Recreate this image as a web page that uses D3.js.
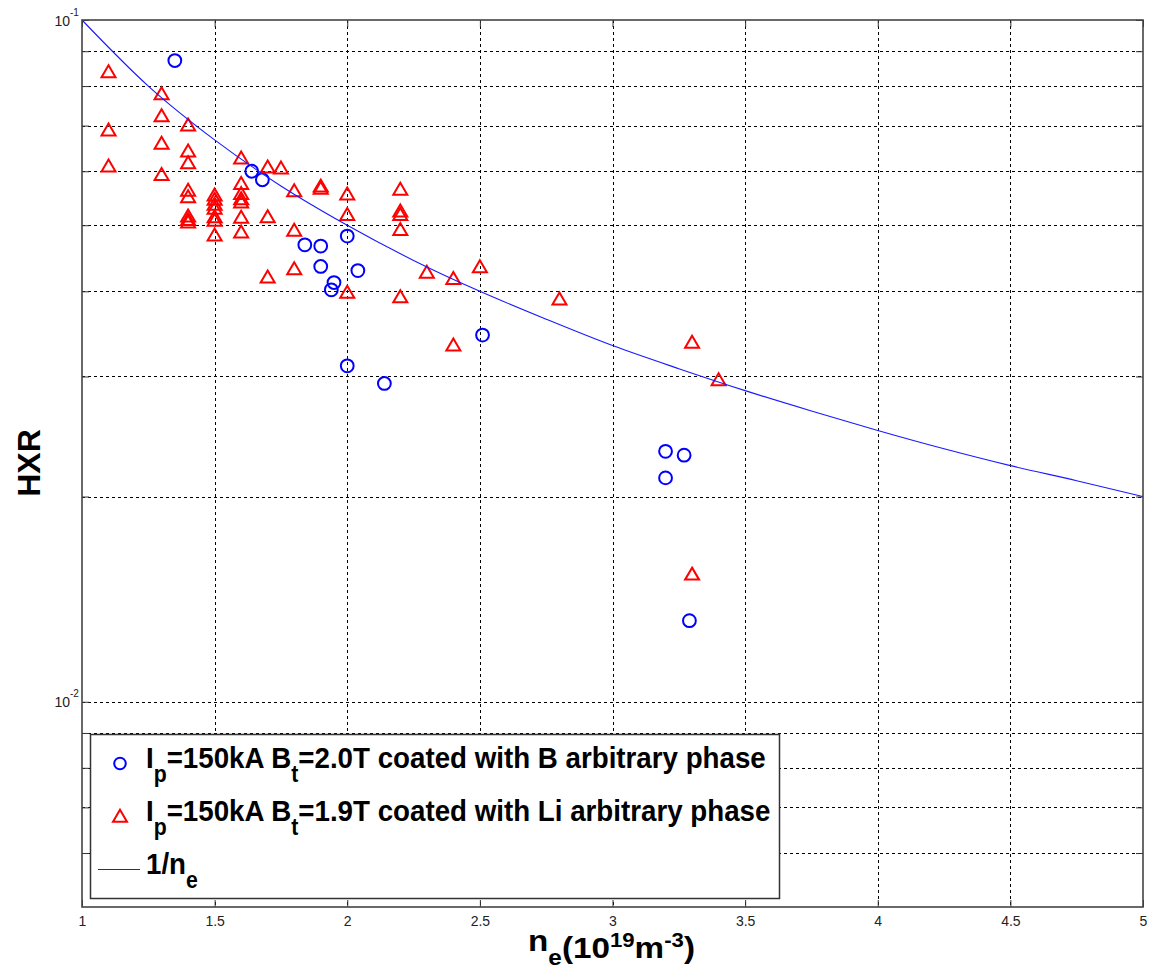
<!DOCTYPE html>
<html>
<head>
<meta charset="utf-8">
<script src="https://cdn.jsdelivr.net/npm/d3@7/dist/d3.min.js"></script>
<style>
  body { margin: 0; background: #fff; }
  text { font-family: "Liberation Sans", Arial, sans-serif; }
</style>
</head>
<body>
<div id="chart"></div>
<script>
// ▶ values
const boronNe  = [1.35, 1.64, 1.68, 1.84, 1.90, 1.90, 1.95, 1.94, 2.00, 2.04, 2.00, 2.14, 2.51, 3.20, 3.27, 3.20, 3.29];
const boronHxr = [0.0872, 0.0600, 0.0583, 0.0468, 0.0466, 0.0435, 0.0412, 0.0402, 0.0482, 0.0429, 0.0311, 0.0293, 0.0345, 0.0233, 0.0230, 0.0213, 0.01315];

const lithiumNe = [
  1.1, 1.1, 1.1,
  1.3, 1.3, 1.3, 1.3,
  1.4, 1.4, 1.4, 1.4, 1.4, 1.4, 1.4, 1.4,
  1.5, 1.5, 1.5, 1.5, 1.5, 1.5, 1.5,
  1.6, 1.6, 1.6, 1.6, 1.6, 1.6, 1.6,
  1.7, 1.7, 1.7, 1.75,
  1.8, 1.8, 1.8, 1.9, 1.9,
  2.0, 2.0, 2.0,
  2.2, 2.2, 2.2, 2.2, 2.2,
  2.3, 2.4, 2.4, 2.5, 2.8, 3.3, 3.3, 3.4
];
const lithiumHxr = [
  0.0840, 0.0690, 0.0611,
  0.0780, 0.0724, 0.0660, 0.0594,
  0.0702, 0.0643, 0.0618, 0.0563, 0.0551, 0.0516, 0.0510, 0.0506,
  0.0554, 0.0546, 0.0537, 0.0530, 0.0515, 0.0509, 0.0484,
  0.0628, 0.0576, 0.0557, 0.0547, 0.0541, 0.0514, 0.0489,
  0.0609, 0.0515, 0.0420, 0.0607,
  0.0562, 0.0492, 0.0432, 0.0567, 0.0571,
  0.0556, 0.0519, 0.0399,
  0.0565, 0.0525, 0.0519, 0.0493, 0.0393,
  0.0427, 0.0418, 0.0334, 0.0435, 0.0390, 0.0337, 0.0154, 0.0297
];

// 1/ne reference curve, read at every 0.25
const curveNe  = [1, 1.25, 1.5, 1.75, 2, 2.25, 2.5, 2.75, 3, 3.25, 3.5, 3.75, 4, 4.25, 4.5, 4.75, 5];
const curveHxr = [0.1, 0.08, 0.0667, 0.0571, 0.05, 0.0444, 0.04, 0.0364, 0.0333, 0.0308, 0.0286, 0.0267, 0.025, 0.0235, 0.0222, 0.0211, 0.02];

const xTickValues = [1, 1.5, 2, 2.5, 3, 3.5, 4, 4.5, 5];
const xTickLabels = ["1", "1.5", "2", "2.5", "3", "3.5", "4", "4.5", "5"];
const yMinorValues = [0.006, 0.007, 0.008, 0.009, 0.02, 0.03, 0.04, 0.05, 0.06, 0.07, 0.08, 0.09];
const yMajorValues = [0.01, 0.1];
const yMajorExps   = ["-2", "-1"];

// legend rows: [text, isSubscript]
const legendRows = [
  [["I", 0], ["p", 1], ["=150kA B", 0], ["t", 1], ["=2.0T coated with B arbitrary phase", 0]],
  [["I", 0], ["p", 1], ["=150kA B", 0], ["t", 1], ["=1.9T coated with Li arbitrary phase", 0]],
  [["1/n", 0], ["e", 1]]
];

const W = 1149, H = 971;
const pLeft = 82, pRight = 1143, pTop = 20, pBottom = 907;

const svg = d3.select("#chart").append("svg")
  .attr("width", W)
  .attr("height", H);

const x = d3.scaleLinear().domain([1, 5]).range([pLeft, pRight]);
const y = d3.scaleLog().domain([0.005, 0.1]).range([pBottom, pTop]);

// 网格
const grid = svg.append("g").attr("class", "grid")
  .attr("stroke", "#000")
  .attr("stroke-width", 1)
  .attr("stroke-dasharray", "3,3")
  .attr("shape-rendering", "crispEdges");

grid.selectAll(".vgrid")
  .data(xTickValues.slice(1, -1))
  .enter().append("line")
  .attr("x1", d => Math.round(x(d)) + 0.5)
  .attr("x2", d => Math.round(x(d)) + 0.5)
  .attr("y1", pTop)
  .attr("y2", pBottom);

grid.selectAll(".hgrid")
  .data(yMinorValues.concat([0.01]))
  .enter().append("line")
  .attr("x1", pLeft)
  .attr("x2", pRight)
  .attr("y1", d => Math.round(y(d)) + 0.5)
  .attr("y2", d => Math.round(y(d)) + 0.5);

// 坐标轴 (ticks point inward like MATLAB)
const axisStyle = g => {
  g.select(".domain").remove();
  g.selectAll(".tick line").attr("stroke", "#333");
};

svg.append("g")
  .attr("transform", `translate(0,${pBottom})`)
  .call(d3.axisBottom(x).tickValues(xTickValues)
    .tickFormat((d, i) => xTickLabels[i]).tickSize(-7).tickPadding(9))
  .call(axisStyle)
  .call(g => g.selectAll("text")
    .attr("font-size", 14)
    .attr("fill", "#222")
    .attr("font-family", "'Liberation Sans', Arial, sans-serif"));

svg.append("g")
  .attr("transform", `translate(0,${pTop})`)
  .call(d3.axisTop(x).tickValues(xTickValues).tickFormat("").tickSize(-7))
  .call(axisStyle);

svg.append("g")
  .attr("transform", `translate(${pLeft},0)`)
  .call(d3.axisLeft(y).tickValues(yMinorValues.concat(yMajorValues)).tickFormat("").tickSize(-7))
  .call(axisStyle);

svg.append("g")
  .attr("transform", `translate(${pRight},0)`)
  .call(d3.axisRight(y).tickValues(yMinorValues.concat(yMajorValues)).tickFormat("").tickSize(-7))
  .call(axisStyle);

// y major labels 10^-1, 10^-2
const yLab = svg.append("g").attr("fill", "#222");
yMajorValues.forEach((v, i) => {
  yLab.append("text")
    .attr("x", 70)
    .attr("y", y(v) + 5.5)
    .attr("text-anchor", "end")
    .attr("font-size", 14)
    .text("10");
  yLab.append("text")
    .attr("x", 70)
    .attr("y", y(v) - 4.5)
    .attr("font-size", 10)
    .text(yMajorExps[i]);
});

// 数据点
const plot = svg.append("g");

plot.selectAll(".boron")
  .data(boronNe.map((d, i) => [d, boronHxr[i]]))
  .enter().append("circle")
  .attr("class", "boron")
  .attr("cx", d => x(d[0]))
  .attr("cy", d => y(d[1]))
  .attr("r", 6.4)
  .attr("fill", "none")
  .attr("stroke", "#0000ff")
  .attr("stroke-width", 2);

const triPath = "M0,-6.3L7,5.7L-7,5.7Z";

plot.selectAll(".lithium")
  .data(lithiumNe.map((d, i) => [d, lithiumHxr[i]]))
  .enter().append("path")
  .attr("class", "lithium")
  .attr("d", triPath)
  .attr("transform", d => `translate(${x(d[0])},${y(d[1])})`)
  .attr("fill", "none")
  .attr("stroke", "#ff0000")
  .attr("stroke-width", 2);

const line = d3.line()
  .x(d => x(d[0]))
  .y(d => y(d[1]))
  .curve(d3.curveMonotoneX);

plot.append("path")
  .datum(curveNe.map((d, i) => [d, curveHxr[i]]))
  .attr("d", line)
  .attr("fill", "none")
  .attr("stroke", "#1a1aff")
  .attr("stroke-width", 1.1);

// 外框
svg.append("rect")
  .attr("x", pLeft)
  .attr("y", pTop)
  .attr("width", pRight - pLeft)
  .attr("height", pBottom - pTop)
  .attr("fill", "none")
  .attr("stroke", "#444")
  .attr("stroke-width", 1.6);

// 图例
const legend = svg.append("g");
legend.append("rect")
  .attr("x", 90.5)
  .attr("y", 734.5)
  .attr("width", 689)
  .attr("height", 164)
  .attr("fill", "#fff")
  .attr("stroke", "#333")
  .attr("stroke-width", 1.5);

legend.append("circle")
  .attr("cx", 120).attr("cy", 763.5).attr("r", 5.8)
  .attr("fill", "none").attr("stroke", "#0000ff").attr("stroke-width", 2);
legend.append("path")
  .attr("d", triPath)
  .attr("transform", "translate(120,816)")
  .attr("fill", "none").attr("stroke", "#ff0000").attr("stroke-width", 2);
legend.append("line")
  .attr("x1", 98).attr("x2", 140).attr("y1", 869.5).attr("y2", 869.5)
  .attr("stroke", "#1a1aff").attr("stroke-width", 1.1);

const rowBase = [768, 821, 874];
const rowGroups = legendRows.map((row, r) => {
  const g = legend.append("g");
  const t = g.append("text")
    .attr("font-weight", "bold")
    .attr("font-size", 30)
    .attr("fill", "#000");
  row.forEach(([s, sub]) => {
    t.append("tspan")
      .attr("y", rowBase[r] + (sub ? 14 : 0))
      .attr("font-size", sub ? 23 : 30)
      .text(s);
  });
  return { g, t };
});
const sx = 620 / rowGroups[0].t.node().getComputedTextLength();
rowGroups.forEach(({ g }) => g.attr("transform", `translate(146,0) scale(${sx},1)`));

// 轴标题
svg.append("text")
  .attr("transform", "translate(40,463) rotate(-90)")
  .attr("text-anchor", "middle")
  .attr("font-weight", "bold")
  .attr("font-size", 32)
  .attr("fill", "#000")
  .text("HXR");

const xTitle = svg.append("g");
const xt = xTitle.append("text")
  .attr("font-weight", "bold")
  .attr("fill", "#000");
const titleBase = 958;
[["n", 30, -7], ["e", 22, 7], ["(10", 30, 0], ["19", 20, -11], ["m", 30, 0], ["-3", 20, -11], [")", 30, 0]]
  .forEach(([s, size, off]) => {
    xt.append("tspan").attr("y", titleBase + off).attr("font-size", size).text(s);
  });
const tx = 167 / xt.node().getComputedTextLength();
xTitle.attr("transform", `translate(528,0) scale(${tx},1)`);
</script>
</body>
</html>
